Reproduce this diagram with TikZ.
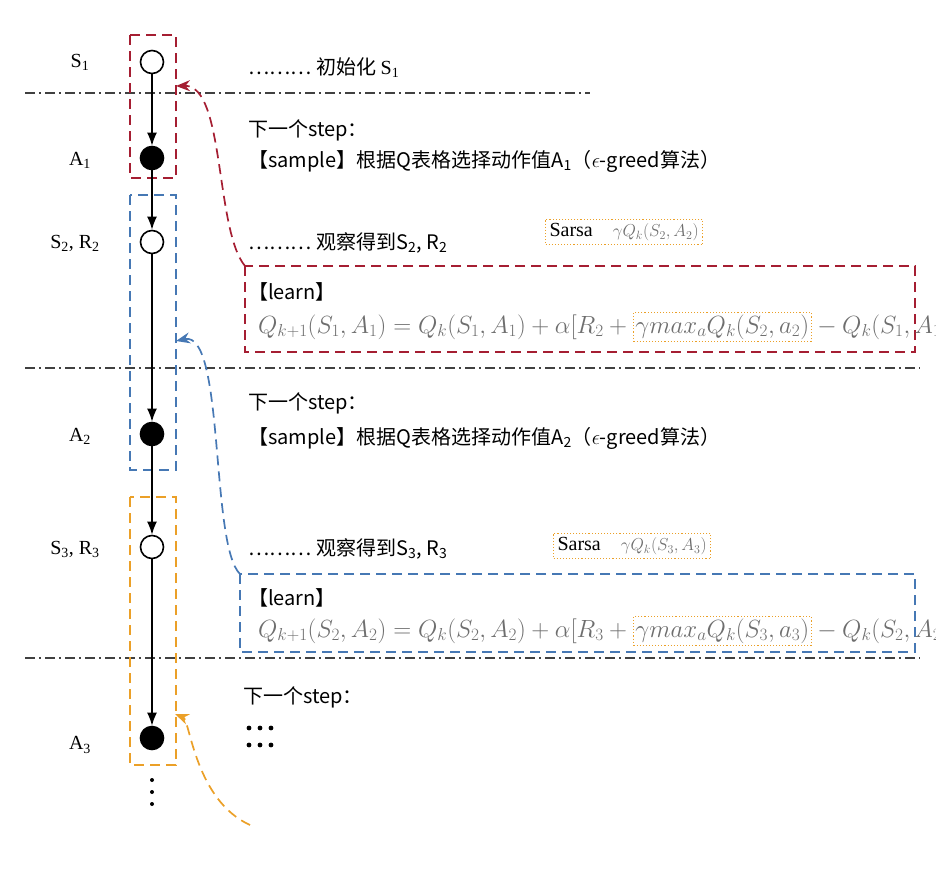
\documentclass[tikz,border=0pt]{standalone}
\usepackage{fontspec}
\setmainfont{Liberation Serif}
\newfontfamily\cjk{Noto Sans CJK SC}
\usetikzlibrary{arrows.meta,positioning}
\definecolor{dred}{RGB}{165,30,50}
\definecolor{dblue}{RGB}{70,120,180}
\definecolor{dorange}{RGB}{235,160,40}
\definecolor{fgray}{RGB}{110,110,110}
\tikzset{
 st/.style={circle,draw,line width=1.6pt,minimum size=23pt,inner sep=0pt},
 ac/.style={circle,draw,fill=black,line width=1.6pt,minimum size=23pt,inner sep=0pt},
 lab/.style={font=\fontsize{20}{22}\selectfont},
 txt/.style={anchor=west,font=\fontsize{20}{22}\selectfont,inner sep=0pt},
 flow/.style={-{Latex[length=13pt,width=10pt]},line width=1.6pt},
 sep/.style={dash pattern=on 10pt off 4pt on 2pt off 4pt,black!75,line width=1.1pt},
 frm/.style={inner sep=0pt,text=fgray,font=\fontsize{23.5}{26}\selectfont},
 dbox/.style={dash pattern=on 10pt off 6pt,line width=1.7pt},
 dotbox/.style={dotted,dorange,line width=1.1pt},
 curv/.style={dash pattern=on 10pt off 6pt,line width=1.7pt,-{Stealth[length=14pt,width=11pt]}}
}
\begin{document}
\begin{tikzpicture}[x=1pt,y=-1pt]
\useasboundingbox (0,0) rectangle (936,870);
% separators
\draw[sep] (25,93) -- (590,93);
\draw[sep] (25,368) -- (920,368);
\draw[sep] (25,658) -- (920,658);
% column boxes
\draw[dbox,dred] (130,35) rectangle (176,178);
\draw[dbox,dblue] (130,195) rectangle (176,470);
\draw[dbox,dorange] (130,497) rectangle (176,765);
% nodes
\node[st] (s1) at (152,62) {};
\node[ac] (a1) at (152,158) {};
\node[st] (s2) at (152,242) {};
\node[ac] (a2) at (152,434) {};
\node[st] (s3) at (152,547) {};
\node[ac] (a3) at (152,738) {};
\foreach \y in {780,792,804}{\fill (152,\y) circle (2pt);}
\draw[flow] (s1) -- (a1);
\draw[flow] (a1) -- (s2);
\draw[flow] (s2) -- (a2);
\draw[flow] (a2) -- (s3);
\draw[flow] (s3) -- (a3);
% labels
\node[lab] (l1) at (80,62) {S\textsubscript{1}};
\node[lab] (l2) at (80,160) {A\textsubscript{1}};
\node[lab] (l3) at (75,243) {S\textsubscript{2}, R\textsubscript{2}};
\node[lab] (l4) at (80,436) {A\textsubscript{2}};
\node[lab] (l5) at (75,549) {S\textsubscript{3}, R\textsubscript{3}};
\node[lab] (l6) at (80,745) {A\textsubscript{3}};
% texts block 1
\node[txt] (t1) at (248,68) {\cjk ……… 初始化 \rmfamily S\textsubscript{1}};
\node[txt] (t2) at (248,130) {\cjk 下一个step：};
\node[txt] (t3) at (248,161) {\cjk 【sample】根据Q表格选择动作值A\textsubscript{1}（$\epsilon$-greed算法）};
\node[txt] (t4) at (248,243) {\cjk ……… 观察得到S\textsubscript{2}, R\textsubscript{2}};
\node[draw,dotbox,text=black,inner sep=4pt,anchor=west,font=\fontsize{20}{22}\selectfont] (sa1) at (545,232) {Sarsa\quad\textcolor{fgray}{\fontsize{17}{19}\selectfont$\gamma Q_k(S_2,A_2)$}};
\draw[dbox,dred] (245,266) rectangle (915,352);
\node[txt,font=\cjk\fontsize{20}{22}\selectfont] (ln1) at (248,292) {【learn】};
\node[frm,anchor=west] (f1a) at (258,327) {$Q_{k+1}(S_1,A_1)=Q_k(S_1,A_1)+\alpha[R_2+{}$};
\node[frm,anchor=west,draw=dorange,dotted,line width=1.1pt,inner sep=2pt] (f1b) at (f1a.east) {$\gamma max_aQ_k(S_2,a_2)$};
\node[frm,anchor=west] (f1c) at (f1b.east) {${}-Q_k(S_1,A_1)]$};
% block 2
\node[txt] (t5) at (248,403) {\cjk 下一个step：};
\node[txt] (t6) at (248,438) {\cjk 【sample】根据Q表格选择动作值A\textsubscript{2}（$\epsilon$-greed算法）};
\node[txt] (t7) at (248,549) {\cjk ……… 观察得到S\textsubscript{3}, R\textsubscript{3}};
\node[draw,dotbox,text=black,inner sep=4pt,anchor=west,font=\fontsize{20}{22}\selectfont] (sa2) at (553,546) {Sarsa\quad\textcolor{fgray}{\fontsize{17}{19}\selectfont$\gamma Q_k(S_3,A_3)$}};
\draw[dbox,dblue] (240,574) rectangle (915,652);
\node[txt,font=\cjk\fontsize{20}{22}\selectfont] (ln2) at (248,598) {【learn】};
\node[frm,anchor=west] (f2a) at (258,631) {$Q_{k+1}(S_2,A_2)=Q_k(S_2,A_2)+\alpha[R_3+{}$};
\node[frm,anchor=west,draw=dorange,dotted,line width=1.1pt,inner sep=2pt] (f2b) at (f2a.east) {$\gamma max_aQ_k(S_3,a_3)$};
\node[frm,anchor=west] (f2c) at (f2b.east) {${}-Q_k(S_2,A_2)]$};
% block 3
\node[txt] (t8) at (243,697) {\cjk 下一个step：};
\foreach \i in {0,1,2}{\fill (249+\i*11,728) circle (2.4pt); \fill (249+\i*11,745) circle (2.4pt);}
% curved arrows
\coordinate (r0) at (245,266);
\coordinate (r1) at (176,86);
\draw[curv,dred] (r0) .. controls (215,230) and (225,85) .. (r1);
\coordinate (b0) at (240,574);
\coordinate (b1) at (176,341);
\draw[curv,dblue] (b0) .. controls (210,545) and (225,330) .. (b1);
\coordinate (o0) at (250,825);
\coordinate (o1) at (175,714);
\draw[curv,dorange] (o0) .. controls (195,800) and (190,720) .. (o1);
\end{tikzpicture}
\end{document}
